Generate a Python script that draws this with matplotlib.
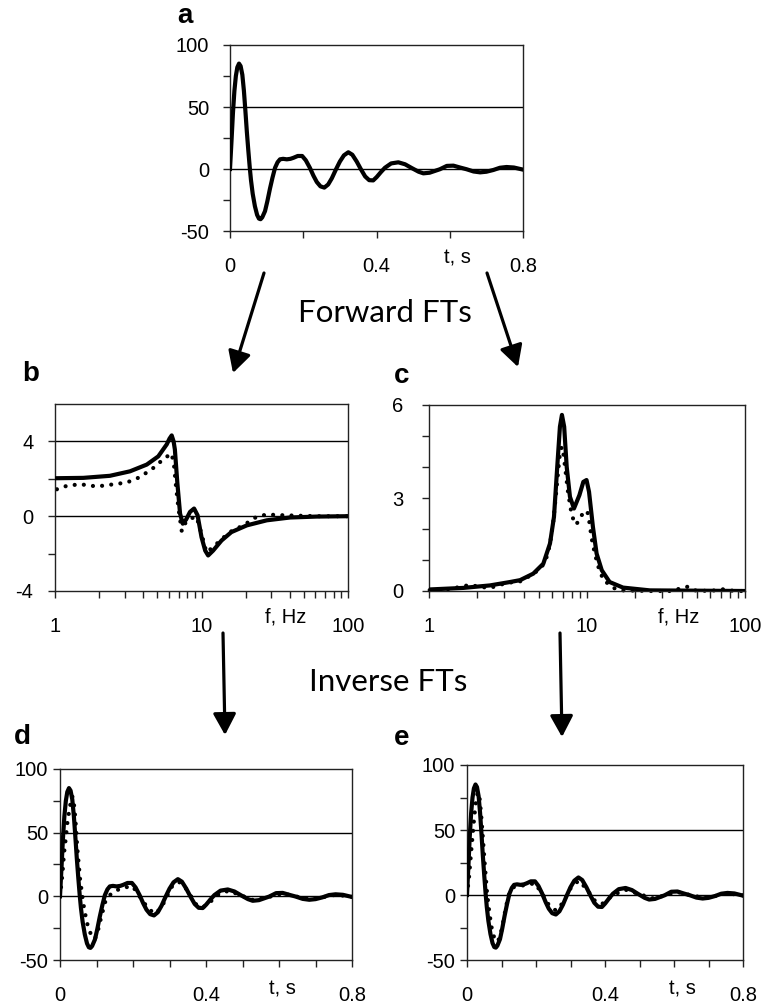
import numpy as np
import matplotlib
matplotlib.use('Agg')
import matplotlib.pyplot as plt
from matplotlib.ticker import FixedLocator, NullFormatter

plt.rcParams['font.family'] = ['Liberation Sans', 'DejaVu Sans']

# ---- data ----
# a: original time signal (also the solid line of d and e)
t_sig = [0.000, 0.004, 0.008, 0.012, 0.016, 0.020, 0.0246, 0.029, 0.0337, 0.038,
         0.042, 0.046, 0.050, 0.054, 0.0573, 0.062, 0.068, 0.074, 0.079, 0.0835,
         0.088, 0.0956, 0.102, 0.109, 0.116, 0.123, 0.130, 0.1365, 0.145, 0.155,
         0.165, 0.173, 0.185, 0.197, 0.207, 0.218, 0.228, 0.237, 0.247, 0.2575,
         0.268, 0.278, 0.289, 0.300, 0.311, 0.323, 0.334, 0.346, 0.357, 0.369,
         0.380, 0.391, 0.4005, 0.412, 0.423, 0.440, 0.4596, 0.478, 0.496, 0.515,
         0.528, 0.545, 0.560, 0.573, 0.592, 0.610, 0.628, 0.646, 0.665, 0.683,
         0.700, 0.719, 0.737, 0.755, 0.775, 0.800]
y_sig = [0, 22, 45, 63, 75, 82, 85, 83, 76, 63,
         47, 30, 15, 1, -9, -20, -30, -37, -40, -40.5,
         -39, -34, -26, -16, -7, 1, 5.5, 7.8, 8.2, 7.8,
         8.2, 9, 10.5, 10.5, 7, 1, -5.5, -10.5, -14, -15,
         -12.5, -7.5, -0.5, 6, 11, 13.5, 11.5, 6, 0, -6,
         -9, -9.2, -6.5, -2.5, 1, 4.5, 5.4, 3.8, 0.8, -2.2,
         -3.5, -3, -1.5, -0.2, 2.5, 2.7, 1.2, -0.2, -2, -2.7,
         -2.2, -0.8, 1, 1.6, 1.2, -0.5]

# b: real part of forward FT
f_re = [1.0, 1.56, 2.37, 3.25, 4.23, 5.07, 5.79, 6.05, 6.26, 6.45, 6.58, 6.84,
        7.14, 7.45, 7.85, 8.35, 8.9, 9.4, 10.0, 10.6, 11.1, 12.0, 13.7, 16.0,
        20.4, 27.9, 40.2, 61, 100]
re_a = [2.03, 2.05, 2.16, 2.4, 2.76, 3.2, 3.84, 4.15, 4.32, 4.0, 3.57, 1.78,
        0.14, -0.4, -0.18, 0.23, 0.41, 0.05, -1.12, -1.84, -2.1, -1.84, -1.3, -0.85,
        -0.49, -0.22, -0.07, -0.02, 0]
f_re2 = [1.03, 1.2, 1.48, 1.93, 2.37, 3.09, 3.8, 4.69, 5.63, 6.26, 6.5, 6.7,
         6.94, 7.33, 7.7, 8.35, 9.25, 10.0, 10.8, 12.0, 13.4, 15.6, 19.3, 23.8,
         27.9, 36.3, 61, 100]
re_b = [1.44, 1.62, 1.71, 1.59, 1.68, 1.8, 2.09, 2.58, 3.12, 3.35, 2.67, 1.58,
        0.5, -0.8, -0.4, -0.13, -0.03, -0.94, -1.93, -1.66, -1.3, -0.85, -0.49, -0.03,
        0.09, 0.05, 0, 0]

# c: amplitude of forward FT
f_am = [1.01, 1.65, 2.43, 3.26, 3.77, 4.57, 5.29, 5.83, 6.18, 6.48, 6.74, 6.94,
        7.17, 7.44, 7.8, 8.27, 8.95, 9.48, 9.93, 10.3, 10.9, 11.5, 12.4, 13.9,
        16.9, 25, 100]
am_a = [0.05, 0.1, 0.18, 0.29, 0.35, 0.56, 0.88, 1.53, 2.39, 4.0, 5.3, 5.68,
        5.3, 4.0, 3.04, 2.66, 3.09, 3.52, 3.58, 3.2, 2.07, 1.21, 0.67, 0.29,
        0.11, 0.02, 0]
f_am2 = [1.01, 1.29, 1.61, 1.82, 2.05, 2.43, 3.1, 3.77, 4.57, 5.17, 5.56, 5.83,
         6.12, 6.36, 6.58, 6.74, 6.92, 7.1, 7.3, 7.6, 7.95, 8.2, 8.5, 9.0,
         9.47, 10.05, 10.3, 10.7, 11.2, 11.8, 12.7, 15, 16.9, 25, 35, 39.6,
         43.6, 48, 60, 74, 85, 100]
am_b = [0.03, 0.05, 0.14, 0.2, 0.14, 0.1, 0.26, 0.31, 0.55, 0.77, 1.1, 1.5,
        2.25, 3.1, 3.9, 4.44, 4.65, 4.4, 3.9, 3.15, 2.55, 2.3, 2.14, 2.3,
        2.55, 2.57, 2.3, 1.7, 1.21, 0.78, 0.35, 0.08, 0.02, 0, 0, 0.1,
        0.14, 0.02, 0, 0.06, 0, 0]

# d: inverse FT of b (dotted)
t_d = [0, 0.0064, 0.011, 0.0164, 0.021, 0.0274, 0.032, 0.036, 0.040, 0.043,
       0.0475, 0.0548, 0.064, 0.073, 0.082, 0.091, 0.097, 0.103, 0.114, 0.125,
       0.14, 0.164, 0.180, 0.195, 0.207, 0.219, 0.242, 0.26, 0.272, 0.283,
       0.306, 0.326, 0.34, 0.3516, 0.3745, 0.392, 0.41, 0.428, 0.462, 0.498,
       0.53, 0.575, 0.61, 0.648, 0.685, 0.72, 0.756, 0.8]
y_d = [0, 16.6, 33.7, 47, 60, 70.5, 78.4, 78, 68, 57,
       37.6, 14, -5.8, -20, -28, -33.4, -32.5, -28, -15, -3.2,
       2, 6, 7, 8.2, 5, -0.5, -9.7, -13.7, -10.5, -5.8,
       7.4, 11.3, 8, 3.4, -7, -8.5, -5, 0.5, 4.5, 0.5,
       -3, -0.3, 2.3, -0.2, -2.3, -0.7, 1.3, -0.4]

# e: inverse FT of c (dotted)
t_e = [0, 0.006, 0.011, 0.016, 0.021, 0.026, 0.031, 0.036, 0.041, 0.046,
       0.052, 0.058, 0.065, 0.072, 0.079, 0.087, 0.095, 0.104, 0.113, 0.122,
       0.135, 0.155, 0.175, 0.197, 0.218, 0.238, 0.258, 0.278, 0.300, 0.323,
       0.346, 0.369, 0.391, 0.423, 0.46, 0.496, 0.537, 0.573, 0.61, 0.646,
       0.683, 0.719, 0.755, 0.8]
y_e = [0, 14, 30, 45, 60, 72, 79, 76, 62, 44,
       22, 2, -14, -26, -33, -36, -33, -22, -9, 1,
       6, 7, 8, 9, 1, -8, -12, -6, 5, 11,
       5, -4, -7, 0, 4, 1, -2.5, -0.5, 2.3, 0,
       -2, -0.8, 1.3, -0.3]

W, H = 765, 1005
fig = plt.figure(figsize=(W / 100, H / 100), dpi=100)


def panel(l, t, r, b):
    return fig.add_axes([l / W, 1 - b / H, (r - l) / W, (b - t) / H])


LW = 3.0
DOT = dict(color='black', lw=3.0, linestyle=(0, (0.01, 2.2)), dash_capstyle='round')
TICKFS = 14.5


def common(ax, ypad, xpad):
    for s in ax.spines.values():
        s.set_linewidth(1.0)
        s.set_color('#222222')
    ax.tick_params(which='both', direction='out', length=5, width=1.0,
                   labelsize=TICKFS, color='#222222')
    ax.tick_params(axis='y', pad=ypad)
    ax.tick_params(axis='x', pad=xpad)
    ax.yaxis.set_minor_formatter(NullFormatter())


def time_axes(ax, xticks, ypad):
    ax.set_xlim(0, 0.8)
    ax.set_ylim(-50, 100)
    ax.set_yticks([-50, 0, 50, 100])
    ax.set_yticklabels(['-50', '0', '50', '100'])
    ax.yaxis.set_minor_locator(FixedLocator([-25, 25, 75]))
    ax.set_xticks(xticks)
    ax.set_xticklabels(['0' if abs(v) < 1e-9 else ('0.4' if abs(v - 0.4) < 1e-9 else
                        ('0.8' if abs(v - 0.8) < 1e-9 else '')) for v in xticks])
    ax.axhline(0, color='black', lw=1.0, zorder=1)
    ax.axhline(50, color='black', lw=1.0, zorder=1)
    common(ax, ypad, 14)


def freq_axes(ax, ypad):
    ax.set_xscale('log')
    ax.set_xlim(1, 100)
    ax.xaxis.set_major_locator(FixedLocator([1, 10, 100]))
    ax.set_xticklabels(['1', '10', '100'])
    ax.xaxis.set_minor_locator(FixedLocator([2, 3, 4, 5, 6, 7, 8, 9,
                                             20, 30, 40, 50, 60, 70, 80, 90]))
    ax.xaxis.set_minor_formatter(NullFormatter())
    common(ax, ypad, 14)


# a
ax_a = panel(230, 45, 523, 231)
time_axes(ax_a, [0, 0.2, 0.4, 0.6, 0.8], 10)
ax_a.plot(t_sig, y_sig, color='black', lw=LW, solid_joinstyle='round', zorder=3)

# b
ax_b = panel(55, 404, 348, 591)
freq_axes(ax_b, 10.5)
ax_b.set_ylim(-4, 6)
ax_b.set_yticks([-4, 0, 4])
ax_b.set_yticklabels(['-4', '0', '4'])
ax_b.yaxis.set_minor_locator(FixedLocator([-2, 2]))
ax_b.axhline(0, color='black', lw=1.0, zorder=1)
ax_b.axhline(4, color='black', lw=1.0, zorder=1)
ax_b.plot(f_re2, re_b, zorder=2, **DOT)
ax_b.plot(f_re, re_a, color='black', lw=LW, solid_joinstyle='round', zorder=3)

# c
ax_c = panel(429, 405, 745, 591)
freq_axes(ax_c, 13.5)
ax_c.set_ylim(0, 6)
ax_c.set_yticks([0, 3, 6])
ax_c.set_yticklabels(['0', '3', '6'])
ax_c.yaxis.set_minor_locator(FixedLocator([1, 2, 4, 5]))
ax_c.plot(f_am2, am_b, zorder=2, clip_on=False, **DOT)
ax_c.plot(f_am, am_a, color='black', lw=LW, solid_joinstyle='round', zorder=3)

# d
ax_d = panel(60, 769, 352, 960)
time_axes(ax_d, [0, 0.1, 0.2, 0.3, 0.4, 0.5, 0.6, 0.7, 0.8], 3.5)
ax_d.plot(t_d, y_d, zorder=2, **DOT)
ax_d.plot(t_sig, y_sig, color='black', lw=LW, solid_joinstyle='round', zorder=3)

# e
ax_e = panel(467, 765, 743, 960)
time_axes(ax_e, [0, 0.1, 0.2, 0.3, 0.4, 0.5, 0.6, 0.7, 0.8], 3.5)
ax_e.plot(t_e, y_e, zorder=2, **DOT)
ax_e.plot(t_sig, y_sig, color='black', lw=LW, solid_joinstyle='round', zorder=3)

# overlay for labels, captions and arrows (pixel coordinates, y down)
ov = fig.add_axes([0, 0, 1, 1])
ov.set_xlim(0, W)
ov.set_ylim(H, 0)
ov.axis('off')

for lab, x, y in [('a', 185, 16), ('b', 31, 374), ('c', 402, 376),
                  ('d', 22, 737), ('e', 402, 738)]:
    ov.text(x, y, lab, ha='center', va='center', fontsize=20, fontweight='bold')

for lab, x, y in [('t, s', 457, 258), ('t, s', 282, 989), ('t, s', 682, 989),
                  ('f, Hz', 286, 617), ('f, Hz', 679, 617)]:
    ov.text(x, y, lab, ha='center', va='center', fontsize=TICKFS)

ov.text(385, 313, 'Forward FTs', ha='center', va='center', fontsize=22.5,
        family=['Lato', 'DejaVu Sans'])
ov.text(388, 682, 'Inverse FTs', ha='center', va='center', fontsize=22.5,
        family=['Lato', 'DejaVu Sans'])

arrows = [((264, 273), (233, 373)), ((487, 273), (518, 367)),
          ((223, 633), (225, 735)), ((560, 633), (562, 737))]
for tail, tip in arrows:
    ov.annotate('', xy=tip, xytext=tail,
                arrowprops=dict(arrowstyle='-|>,head_length=0.65,head_width=0.35',
                                lw=2.3, color='black', mutation_scale=20,
                                shrinkA=0, shrinkB=0))

plt.savefig('out.png', dpi=100)
